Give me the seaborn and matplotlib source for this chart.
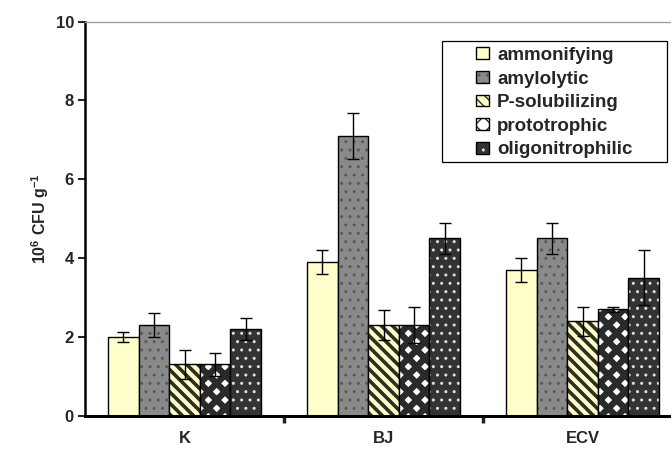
import numpy as np
import pandas as pd
import seaborn as sb
import matplotlib.pyplot as plt
from matplotlib.colors import to_rgba
from matplotlib.container import BarContainer
from matplotlib.patches import Rectangle

# Data (10^6 CFU per g)
sites = ['K', 'BJ', 'ECV']
groups = ['ammonifying', 'amylolytic', 'P-solubilizing', 'prototrophic', 'oligonitrophilic']
means = {
    'ammonifying':      [2.0, 3.9, 3.7],
    'amylolytic':       [2.3, 7.1, 4.5],
    'P-solubilizing':   [1.3, 2.3, 2.4],
    'prototrophic':     [1.3, 2.3, 2.7],
    'oligonitrophilic': [2.2, 4.5, 3.5],
}
errors = {
    'ammonifying':      [0.12, 0.3, 0.3],
    'amylolytic':       [0.3, 0.58, 0.4],
    'P-solubilizing':   [0.37, 0.38, 0.37],
    'prototrophic':     [0.3, 0.45, 0.07],
    'oligonitrophilic': [0.28, 0.4, 0.7],
}

# Bar styles: face colour, hatch, hatch colour, hatch line width
styles = {
    'ammonifying':      ('#ffffcc', '', 'black', 1.0),
    'amylolytic':       ('#8a8a8a', '..', '#5a5a5a', 1.0),
    'P-solubilizing':   ('#ffffcc', '\\\\\\', '#2e2e22', 2.6),
    'prototrophic':     ('white', 'xx', '#2a2a2a', 4.6),
    'oligonitrophilic': ('#333333', '..', '#dddddd', 1.0),
}

df = pd.DataFrame([(s, g, means[g][i]) for g in groups for i, s in enumerate(sites)],
                  columns=['site', 'group', 'value'])

sb.set_style('white')
plt.rcParams['font.family'] = ['Liberation Sans', 'DejaVu Sans']
plt.rcParams['font.weight'] = 'bold'
plt.rcParams['mathtext.fontset'] = 'custom'
plt.rcParams['mathtext.rm'] = 'Liberation Sans:bold'
plt.rcParams['mathtext.it'] = 'Liberation Sans:bold'
plt.rcParams['mathtext.bf'] = 'Liberation Sans:bold'

fig = plt.figure(figsize=(6.71, 4.51), dpi=100)
ax = fig.add_axes([85 / 671, 1 - 415.7 / 451, 597 / 671, (415.7 - 21.7) / 451])

sb.barplot(data=df, x='site', y='value', hue='group', order=sites, hue_order=groups,
           palette=[styles[g][0] for g in groups], saturation=1, width=0.77,
           errorbar=None, legend=False, ax=ax)

bars = [c for c in ax.containers if isinstance(c, BarContainer)]
for g, cont in zip(groups, bars):
    face, hatch, hcol, hlw = styles[g]
    for p in cont.patches:
        p.set_hatch(hatch)
        p.set_edgecolor('black')
        p.set_linewidth(1.0)
        if hasattr(p, 'set_hatchcolor'):
            p.set_hatchcolor(hcol)
        else:
            p._hatch_color = to_rgba(hcol)
        if hasattr(p, 'set_hatch_linewidth'):
            p.set_hatch_linewidth(hlw)

handles = [cont.patches[0] for cont in bars]

for g, cont in zip(groups, bars):
    xs = [p.get_x() + p.get_width() / 2 for p in cont.patches]
    ax.errorbar(xs, means[g], yerr=errors[g], fmt='none', ecolor='black',
                elinewidth=1.0, capsize=4, capthick=1.0, zorder=5)

ax.set_ylim(0, 10)
ax.set_xlim(-0.5, 2.5)
ax.set_yticks([0, 2, 4, 6, 8, 10])
ax.set_xticks([0.5, 1.5], minor=True)
ax.tick_params(axis='y', which='major', direction='out', length=5, width=1.5,
               labelsize=12, pad=3, left=True)
ax.tick_params(axis='x', which='major', length=0, labelsize=12, pad=11)
ax.tick_params(axis='x', which='minor', direction='out', length=5, width=2.5, bottom=True)
for lab in ax.get_xticklabels() + ax.get_yticklabels():
    lab.set_fontweight('bold')

ax.set_xlabel('')
ax.set_ylabel('10$^{6}$ CFU g$^{-1}$', fontsize=11.5, fontweight='bold', labelpad=3.5)

ax.spines['left'].set_linewidth(1.8)
ax.spines['bottom'].set_linewidth(2.2)
ax.spines['left'].set_color('black')
ax.spines['bottom'].set_color('black')
ax.spines['top'].set_color('#a0a0a0')
ax.spines['top'].set_linewidth(1.0)
ax.spines['right'].set_visible(False)

# legend box is wider than its entries in the original, so draw its frame separately
ax.add_patch(Rectangle((442 / 671, 1 - 162 / 451), 225 / 671, 121 / 451,
                       transform=fig.transFigure, facecolor='white', clip_on=False,
                       edgecolor='black', linewidth=0.9, zorder=6))
leg = ax.legend(handles=handles, labels=groups, loc='upper left',
                bbox_to_anchor=(476 / 671, 1 - 47 / 451), bbox_transform=fig.transFigure,
                frameon=False, prop={'weight': 'bold', 'size': 13.5},
                handlelength=0.7, handleheight=0.6, handletextpad=0.43,
                labelspacing=0.35, borderpad=0, borderaxespad=0)
leg.set_zorder(8)

fig.savefig('out.png', dpi=100)
